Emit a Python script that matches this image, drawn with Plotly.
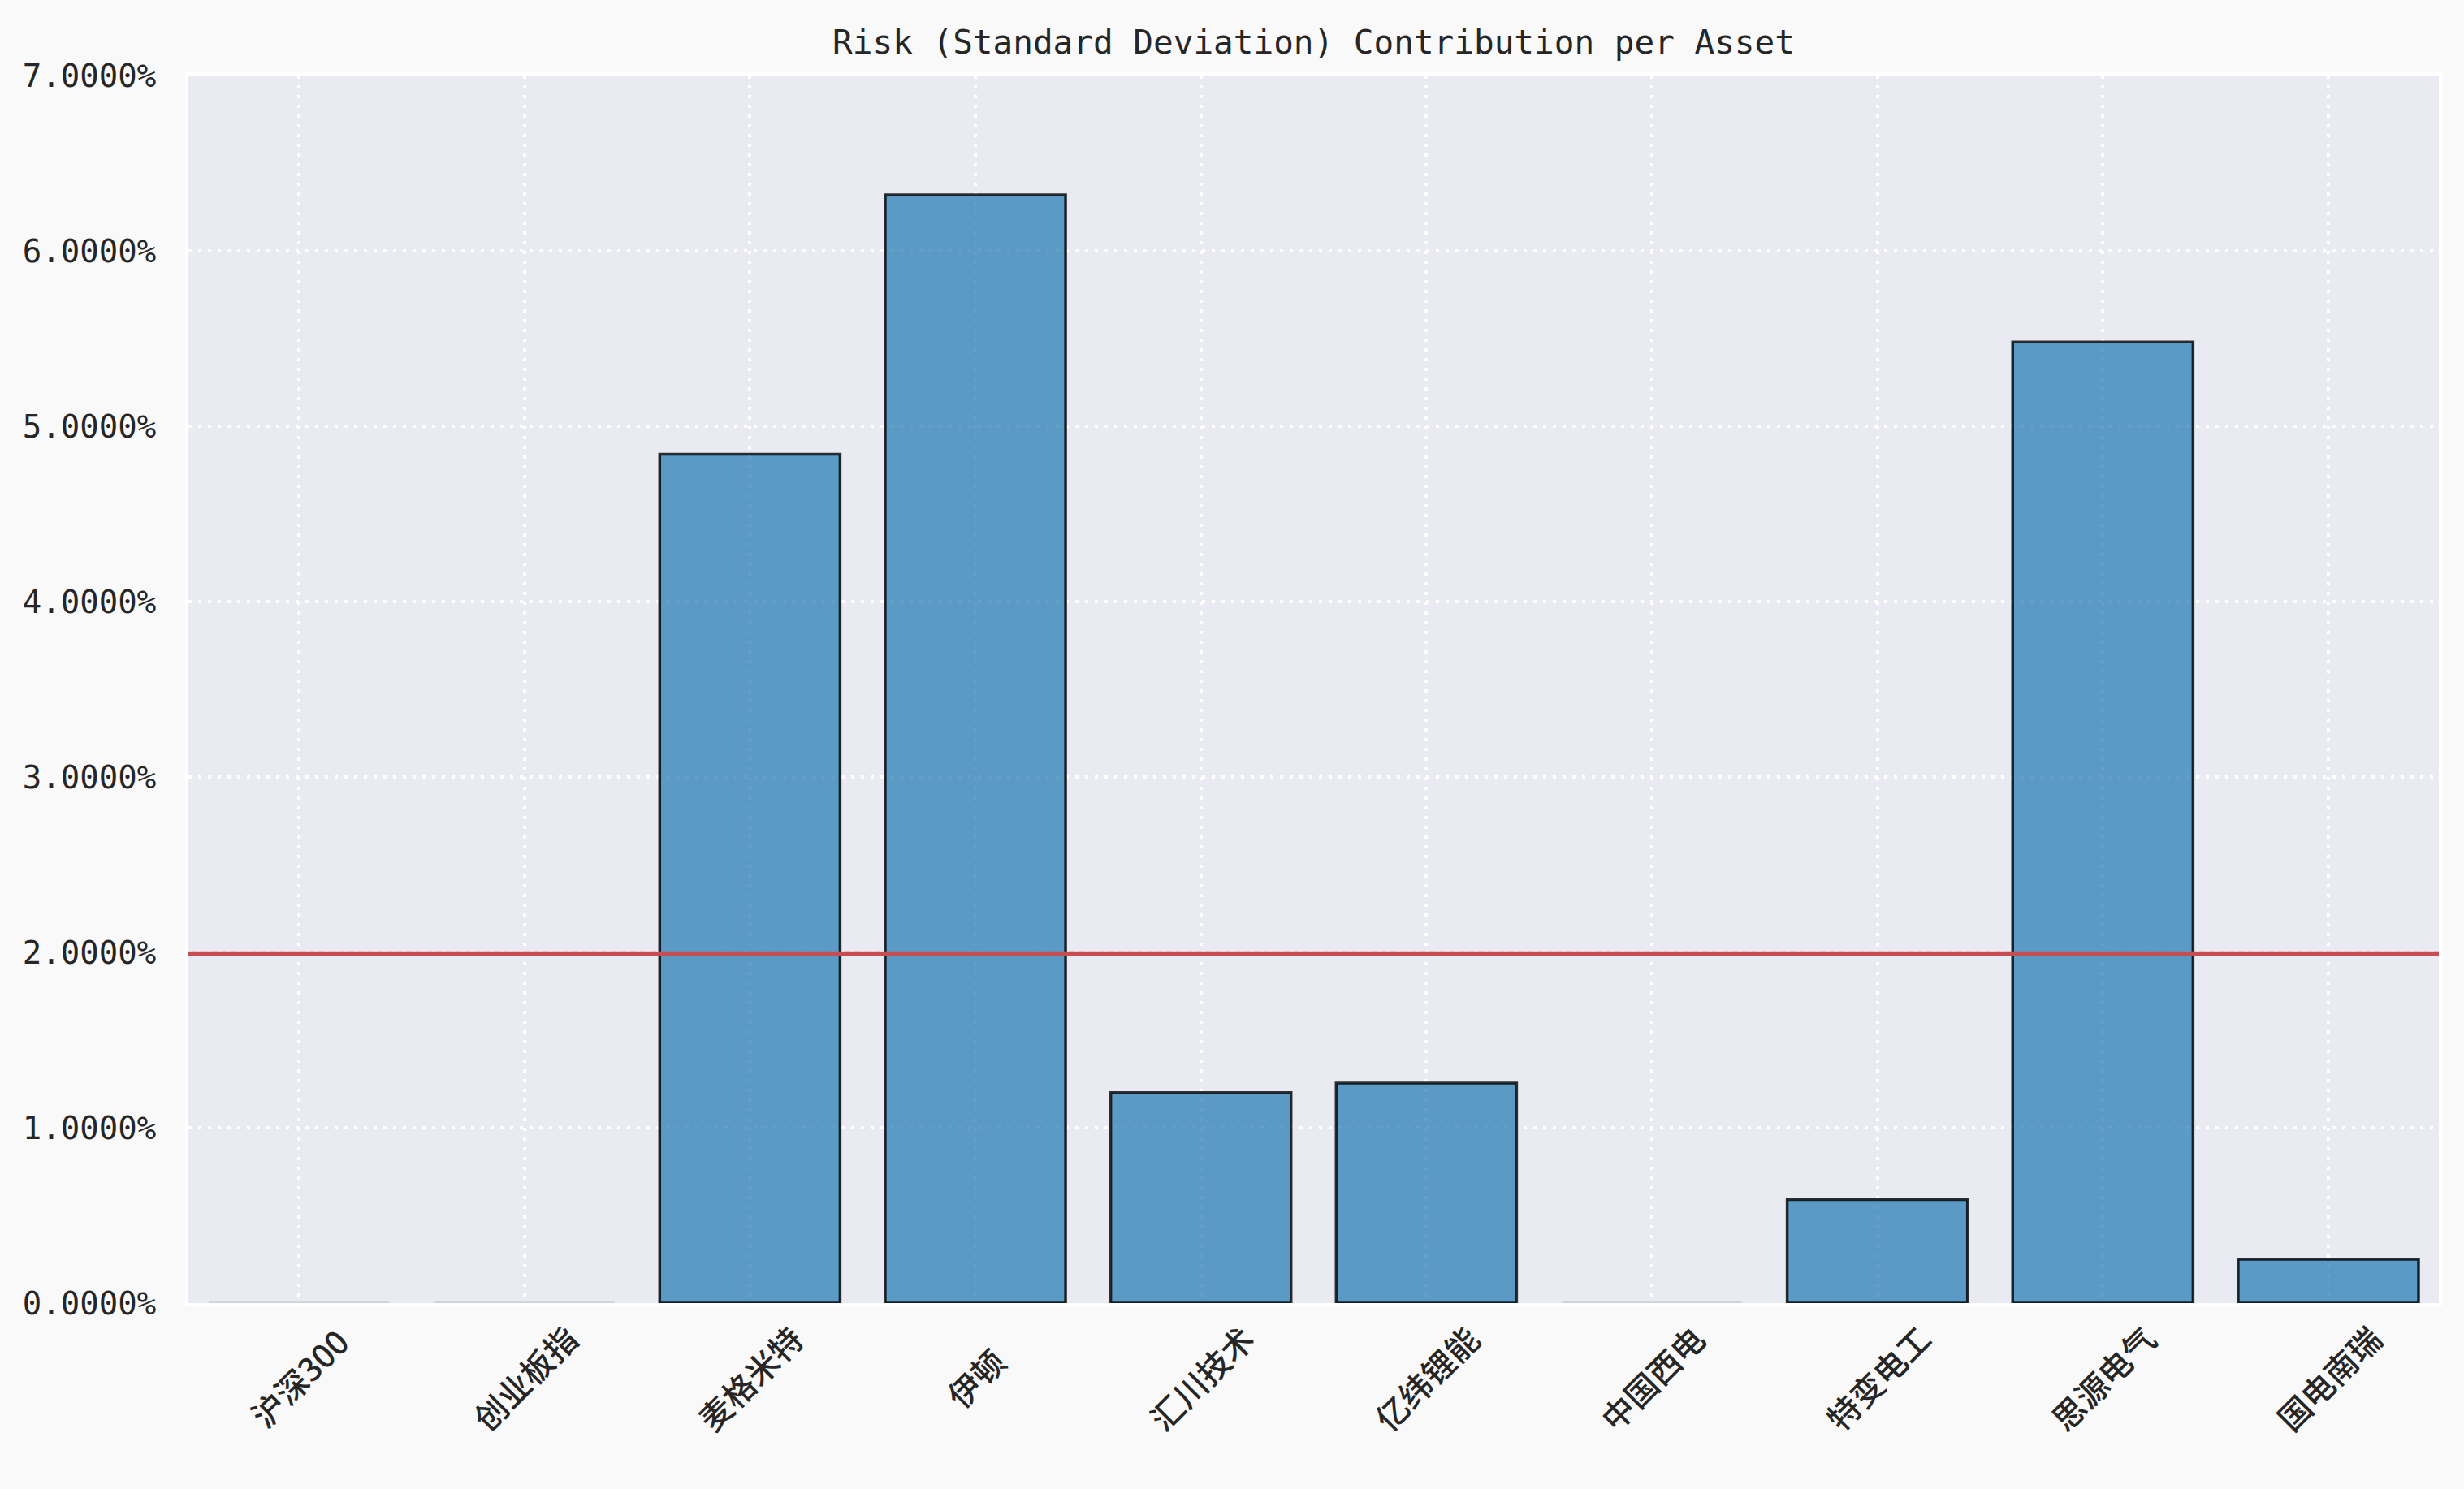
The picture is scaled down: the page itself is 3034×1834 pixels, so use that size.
import plotly.graph_objects as go

assets = ["沪深300", "创业板指", "麦格米特", "伊顿", "汇川技术", "亿纬锂能", "中国西电", "特变电工", "思源电气", "国电南瑞"]
risk_contrib_pct = [0.0, 0.0, 4.84, 6.32, 1.20, 1.255, 0.0, 0.59, 5.48, 0.25]
y_ticks = [0, 1, 2, 3, 4, 5, 6, 7]
y_tick_labels = [f"{v:.4f}%" for v in y_ticks]
title_text = "Risk (Standard Deviation) Contribution per Asset"

mean_contrib = sum(risk_contrib_pct) / len(risk_contrib_pct)
xpos = list(range(len(assets)))

MONO = "DejaVu Sans Mono"
CJK = "Noto Sans CJK SC"

edge_colors = ["rgba(0,0,0,0.8)" if v > 0 else "rgba(205,205,215,0.9)" for v in risk_contrib_pct]

fig = go.Figure()
fig.add_trace(go.Bar(
    x=xpos, y=risk_contrib_pct, width=0.8,
    marker=dict(color="rgba(31,119,180,0.7)", line=dict(color=edge_colors, width=3.5)),
    showlegend=False,
))

fig.add_shape(type="line", xref="paper", x0=0, x1=1, yref="y", y0=mean_contrib, y1=mean_contrib,
              line=dict(color="#c44e52", width=5.5), layer="above")

for i, name in enumerate(assets):
    fig.add_annotation(x=i, xref="x", y=0, yref="paper", text=name, showarrow=False,
                       textangle=-45, xanchor="center", yanchor="middle", yshift=-92,
                       font=dict(family=CJK, size=40, color="#262626", weight=500))

fig.update_layout(
    width=3034, height=1834,
    margin=dict(l=232, r=31, t=93, b=229),
    paper_bgcolor="#f9f9f9",
    plot_bgcolor="#eaeaf2",
    title=dict(text=title_text, xref="paper", x=0.5, xanchor="center", y=1 - 52 / 1834, yanchor="middle",
               font=dict(family=MONO, size=41, color="#262626")),
    xaxis=dict(range=[-0.49, 9.49], tickvals=xpos, showticklabels=False, ticks="",
               showgrid=True, gridcolor="white", gridwidth=3.5, griddash="4px,8px",
               zeroline=False, showline=True, linecolor="white", linewidth=4, mirror=True),
    yaxis=dict(range=[0, 7], tickvals=y_ticks, ticktext=y_tick_labels,
               tickfont=dict(family=MONO, size=39, color="#262626"), ticks="", ticklabelstandoff=28,
               showgrid=True, gridcolor="white", gridwidth=3.5, griddash="4px,8px",
               zeroline=False, showline=True, linecolor="white", linewidth=4, mirror=True),
)

fig.write_html("out.html", config={"displayModeBar": False},
               post_script="document.body.style.margin='0';document.body.style.background='#f9f9f9';")
